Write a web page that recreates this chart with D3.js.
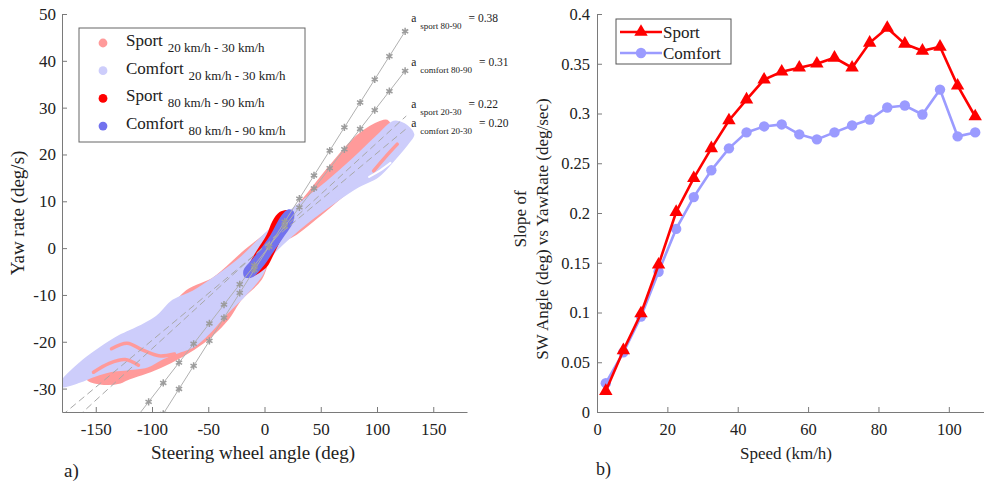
<!DOCTYPE html>
<html>
<head>
<meta charset="utf-8">
<script src="https://cdn.jsdelivr.net/npm/d3@7"></script>
<style>
  body { margin: 0; background: #fff; }
  svg, text { font-family: "Liberation Serif", "Times New Roman", serif; }
  text { fill: #222; }
</style>
</head>
<body>
<div id="chart"></div>
<script>
// ---- Data, panel a) ----
const steerTicks = [-150, -100, -50, 0, 50, 100, 150]
const yawTicks = [-30, -20, -10, 0, 10, 20, 30, 40, 50]

// outlines of the measured clouds [steering angle deg, yaw rate deg/s]
const sport2030 = [
  [-156.9, -27.9], [-137.3, -24.1], [-110.5, -20.5], [-68.6, -9.2], [-45.5, -6.6],
  [-16.9, -0.6], [-1.8, 2.3], [25.8, 7.9], [58.8, 17.5], [82.9, 23.9], [103.4, 26.9],
  [108.7, 27.1], [112.3, 25.8], [118.5, 21.7], [100.7, 16.8], [76.6, 12.6], [47.2, 6.8],
  [29.4, 3.4], [8, 0], [-3.6, -6.6], [-21.4, -10.9], [-33, -15.1], [-48.1, -18.8],
  [-63.3, -21.5], [-83.8, -24.3], [-101.6, -26.2], [-122.1, -27.9], [-128.3, -28.6],
  [-146.2, -28.8]
]
const comfort2030 = [
  [-180, -28.6], [-164, -24.7], [-146.2, -21.5], [-128.3, -18.8], [-110.5, -16.8],
  [-95.4, -14.7], [-81.1, -11.3], [-63.3, -9.4], [-41.9, -6.0], [-21.4, -2.3], [-3.6, 1.9],
  [25.8, 8.3], [56.1, 14.1], [79.3, 19.0], [100.7, 23.9], [115, 26.9], [123.9, 26.4],
  [131.9, 24.3], [127.5, 22.6], [115, 19.0], [100.7, 15.4], [82.9, 13.2], [65.1, 10.4],
  [41, 6.2], [23.2, 2.6], [5.3, -1.7], [-3.6, -6.0], [-18.7, -10.2], [-33, -13.6],
  [-48.1, -17.7], [-63.3, -20.9], [-77.5, -22.2], [-92.7, -23.7], [-104.3, -25.2],
  [-122.1, -25.8], [-137.3, -26.2], [-152.4, -27.3], [-164, -28.4], [-180, -29.4]
]
// sport 20-30 traces that show through the comfort cloud
const sport2030Traces = [
  [[-152, -26.5], [-138, -24.6], [-124, -23.8], [-112, -25]],
  [[-136, -21.5], [-122, -20.3], [-108, -21.8], [-94, -23], [-80, -22.6]],
  [[118, 22.2], [108, 19.6], [97, 16.5]]
]
// thin gaps inside the clouds
const gapTraces = [
  [[93, 15.2], [103, 16.6], [112, 18.2]]
]
const sport8090 = [
  [7.1, 5.8], [13.4, 7.7], [20.5, 8.1], [23.2, 7.0], [17.8, 3.6], [7.1, -1.9], [1.8, -4.1],
  [-12.5, -6.2], [-17.8, -5.8], [-15.2, -4.1], [-7.1, -0.6], [1.8, 2.8]
]
const comfort8090 = [
  [15.2, 7.0], [21.4, 8.3], [25.8, 7.9], [25.8, 5.8], [16.9, 2.3], [7.1, -1.1], [-1.8, -4.1],
  [-10.7, -6.2], [-17.8, -6.2], [-18.7, -4.7], [-12.5, -2.8], [-3.6, -0.2], [5.3, 2.8]
]

// linear fits
const fitNames = ['sport 80-90', 'comfort 80-90', 'sport 20-30', 'comfort 20-30']
const fitSlopes = [0.38, 0.31, 0.22, 0.20]
const fitIntercepts = [-1.2, -0.9, 0.5, 0.3]
const fitDashed = [false, false, true, true]
const fitStartX = [-110, -130, -180, -180]
const fitEndX = [126, 126, 126, 126]
const fitMarkX = [-103, -90, -76, -63, -49, -36, -22, -9, 4, 18, 31, 44, 58, 71, 85, 98, 111, 125]

// ---- Data, panel b) ----
const speeds = [2.5, 7.5, 12.5, 17.5, 22.5, 27.5, 32.5, 37.5, 42.5, 47.5, 52.5,
  57.5, 62.5, 67.5, 72.5, 77.5, 82.5, 87.5, 92.5, 97.5, 102.5, 107.5]
const sportSlope = [0.021, 0.062, 0.099, 0.148, 0.201, 0.235, 0.265, 0.293, 0.314, 0.334, 0.342,
  0.346, 0.350, 0.356, 0.346, 0.371, 0.386, 0.370, 0.363, 0.367, 0.328, 0.297]
const comfortSlope = [0.029, 0.060, 0.096, 0.141, 0.184, 0.216, 0.243, 0.265, 0.281, 0.287, 0.289,
  0.279, 0.274, 0.281, 0.288, 0.294, 0.306, 0.308, 0.299, 0.324, 0.277, 0.281]
const speedTicks = [0, 20, 40, 60, 80, 100]
const slopeTicks = [0, 0.05, 0.1, 0.15, 0.2, 0.25, 0.3, 0.35, 0.4]

// ---- Colours ----
const cSport2030 = '#ff9a9a'
const cComfort2030 = '#cdcdfb'
const cSport8090 = '#ff0000'
const cComfort8090 = '#7272ee'
const cSportB = '#ff0000'
const cComfortB = '#9b9bff'
const axisColor = '#7a7a7a'
const serif = '"Liberation Serif", "Times New Roman", serif'

const W = 984
const H = 483
const svg = d3.select('#chart').append('svg').attr('width', W).attr('height', H)

const fmt = d => String(d).replace('\u2212', '-')

function styleAxis(g, size) {
  g.attr('font-family', serif)
  g.select('.domain').attr('stroke', axisColor)
  g.selectAll('.tick line').attr('stroke', axisColor)
  g.selectAll('.tick text').attr('fill', '#222').attr('font-size', size).style('font-family', serif)
}

// ===================== Panel a =====================
const xa = d3.scaleLinear().domain([-180, 180]).range([62, 467])
const ya = d3.scaleLinear().domain([-35, 50]).range([412, 14])

svg.append('clipPath').attr('id', 'clipA')
  .append('rect').attr('x', 62).attr('y', 14).attr('width', 405).attr('height', 398)

const plotA = svg.append('g').attr('clip-path', 'url(#clipA)')
const area = d3.line().x(d => xa(d[0])).y(d => ya(d[1])).curve(d3.curveCatmullRomClosed.alpha(0.5))
const trace = d3.line().x(d => xa(d[0])).y(d => ya(d[1])).curve(d3.curveCatmullRom.alpha(0.5))

plotA.append('path').attr('d', area(sport2030)).attr('fill', cSport2030)
  .attr('stroke', cSport2030).attr('stroke-width', 3).attr('stroke-linejoin', 'round')
plotA.append('path').attr('d', area(comfort2030)).attr('fill', cComfort2030)
  .attr('stroke', cComfort2030).attr('stroke-width', 3).attr('stroke-linejoin', 'round')
plotA.selectAll('path.tr').data(sport2030Traces).enter().append('path').attr('class', 'tr')
  .attr('d', trace).attr('fill', 'none').attr('stroke', cSport2030)
  .attr('stroke-width', 3.5).attr('stroke-linecap', 'round')
plotA.selectAll('path.gap').data(gapTraces).enter().append('path').attr('class', 'gap')
  .attr('d', trace).attr('fill', 'none').attr('stroke', '#fff')
  .attr('stroke-width', 2).attr('stroke-linecap', 'round')
plotA.append('path').attr('d', area(sport8090)).attr('fill', cSport8090)
plotA.append('path').attr('d', area(comfort8090)).attr('fill', cComfort8090)

// fit lines
fitSlopes.forEach((a, i) => {
  const f = x => a * x + fitIntercepts[i]
  plotA.append('line')
    .attr('x1', xa(fitStartX[i])).attr('y1', ya(f(fitStartX[i])))
    .attr('x2', xa(fitEndX[i])).attr('y2', ya(f(fitEndX[i])))
    .attr('stroke', fitDashed[i] ? '#a8a8a8' : '#b0b0b0')
    .attr('stroke-width', 1)
    .attr('stroke-dasharray', fitDashed[i] ? '7,4' : null)
  if (!fitDashed[i]) {
    const pts = fitMarkX.filter(x => f(x) > -35.5 && x >= fitStartX[i])
    plotA.selectAll(null).data(pts).enter().append('path')
      .attr('transform', x => `translate(${xa(x)},${ya(f(x))})`)
      .attr('d', d3.symbol(d3.symbolAsterisk, 36)())
      .attr('fill', 'none').attr('stroke', '#9c9c9c').attr('stroke-width', 1.5)
  }
})

// fit annotations
const annY = [22, 66, 108, 127]
fitNames.forEach((n, i) => {
  const t = svg.append('text').attr('x', xa(fitEndX[i]) + 5).attr('y', annY[i]).attr('font-size', 11.5)
  t.append('tspan').text('a')
  t.append('tspan').attr('font-size', 9).attr('dx', 4).attr('dy', 7).text(n)
  t.append('tspan').attr('dx', 7).attr('dy', -7).text('= ' + fitSlopes[i].toFixed(2))
})

// axes
const axA_x = svg.append('g').attr('transform', 'translate(0,412)')
  .call(d3.axisBottom(xa).tickValues(steerTicks).tickSize(-5).tickSizeOuter(0).tickPadding(11).tickFormat(fmt))
styleAxis(axA_x, 17)
const axA_y = svg.append('g').attr('transform', 'translate(62,0)')
  .call(d3.axisLeft(ya).tickValues(yawTicks).tickSize(-5).tickSizeOuter(0).tickPadding(6).tickFormat(fmt))
styleAxis(axA_y, 17)

svg.append('text').attr('x', 253).attr('y', 459).attr('text-anchor', 'middle')
  .attr('font-size', 19).text('Steering wheel angle (deg)')
svg.append('text').attr('transform', 'translate(24,213) rotate(-90)').attr('text-anchor', 'middle')
  .attr('font-size', 19).text('Yaw rate (deg/s)')
svg.append('text').attr('x', 64).attr('y', 477).attr('font-size', 19).text('a)')

// legend a
const legA = svg.append('g')
legA.append('rect').attr('x', 79).attr('y', 28).attr('width', 226).attr('height', 114)
  .attr('fill', '#fff').attr('stroke', '#666').attr('stroke-width', 1)
const legNames = ['Sport', 'Comfort', 'Sport', 'Comfort']
const legSubs = ['20 km/h - 30 km/h', '20 km/h - 30 km/h', '80 km/h - 90 km/h', '80 km/h - 90 km/h']
const legColors = [cSport2030, cComfort2030, cSport8090, cComfort8090]
legNames.forEach((n, i) => {
  const cy = 43 + i * 27.7
  legA.append('circle').attr('cx', 103).attr('cy', cy).attr('r', 4.4).attr('fill', legColors[i])
  const t = legA.append('text').attr('x', 126).attr('y', cy + 3).attr('font-size', 17)
  t.append('tspan').text(n)
  t.append('tspan').attr('font-size', 13).attr('dx', 5).attr('dy', 6).text(legSubs[i])
})

// ===================== Panel b =====================
const xb = d3.scaleLinear().domain([0, 110]).range([597, 984])
const yb = d3.scaleLinear().domain([0, 0.4]).range([412, 14])

const axB_x = svg.append('g').attr('transform', 'translate(0,412)')
  .call(d3.axisBottom(xb).tickValues(speedTicks).tickSize(-5).tickSizeOuter(0).tickPadding(11))
styleAxis(axB_x, 16.5)
const axB_y = svg.append('g').attr('transform', 'translate(597,0)')
  .call(d3.axisLeft(yb).tickValues(slopeTicks).tickSize(-5).tickSizeOuter(0).tickPadding(7)
    .tickFormat(d => d3.format('~g')(d)))
styleAxis(axB_y, 16.5)

const lineB = d3.line().x((d, i) => xb(speeds[i])).y(d => yb(d))
svg.append('path').attr('d', lineB(comfortSlope)).attr('fill', 'none')
  .attr('stroke', cComfortB).attr('stroke-width', 2.6)
svg.selectAll('circle.cm').data(comfortSlope).enter().append('circle').attr('class', 'cm')
  .attr('cx', (d, i) => xb(speeds[i])).attr('cy', d => yb(d)).attr('r', 5.2).attr('fill', cComfortB)
svg.append('path').attr('d', lineB(sportSlope)).attr('fill', 'none')
  .attr('stroke', cSportB).attr('stroke-width', 2.6)
svg.selectAll('path.sm').data(sportSlope).enter().append('path').attr('class', 'sm')
  .attr('transform', (d, i) => `translate(${xb(speeds[i])},${yb(d)})`)
  .attr('d', d3.symbol(d3.symbolTriangle, 78)()).attr('fill', cSportB)

svg.append('text').attr('x', 786).attr('y', 459).attr('text-anchor', 'middle')
  .attr('font-size', 17).text('Speed (km/h)')
svg.append('text').attr('transform', 'translate(526,219) rotate(-90)').attr('text-anchor', 'middle')
  .attr('font-size', 17).text('Slope of')
svg.append('text').attr('transform', 'translate(548,229) rotate(-90)').attr('text-anchor', 'middle')
  .attr('font-size', 17).text('SW Angle (deg) vs YawRate (deg/sec)')
svg.append('text').attr('x', 596).attr('y', 475).attr('font-size', 18).text('b)')

// legend b
const legB = svg.append('g')
legB.append('rect').attr('x', 616).attr('y', 19).attr('width', 115).attr('height', 45)
  .attr('fill', '#fff').attr('stroke', '#555').attr('stroke-width', 1)
const legBNames = ['Sport', 'Comfort']
const legBColors = [cSportB, cComfortB]
legBNames.forEach((n, i) => {
  const cy = 32 + i * 21
  legB.append('line').attr('x1', 620).attr('x2', 662).attr('y1', cy).attr('y2', cy)
    .attr('stroke', legBColors[i]).attr('stroke-width', 2.6)
  if (i === 0) {
    legB.append('path').attr('transform', `translate(641,${cy})`)
      .attr('d', d3.symbol(d3.symbolTriangle, 78)()).attr('fill', legBColors[i])
  } else {
    legB.append('circle').attr('cx', 641).attr('cy', cy).attr('r', 5.2).attr('fill', legBColors[i])
  }
  legB.append('text').attr('x', 663).attr('y', cy + 6).attr('font-size', 17).text(n)
})
</script>
</body>
</html>
